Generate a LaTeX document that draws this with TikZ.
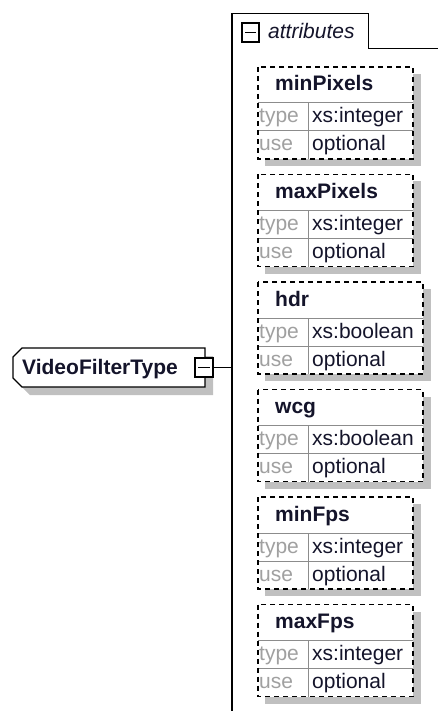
\documentclass[tikz,border=0pt]{standalone}
\usepackage{fontspec}
\setmainfont{Liberation Sans}
\definecolor{shadowgray}{HTML}{C0C0C0}
\definecolor{sepgray}{HTML}{8C8C8C}
\definecolor{keygray}{HTML}{A0A0A0}
\definecolor{inkdark}{HTML}{14142A}
\newcommand\xsdattr[5]{%
  \fill[shadowgray] (265,{#2+7}) rectangle ({#3+8},{#2+99});
  \fill[white] (258,#2) rectangle (#3,{#2+92});
  \draw[sepline] (258,{#2+36}) -- (#3,{#2+36});
  \draw[sepline] (258,{#2+64}) -- (#3,{#2+64});
  \draw[sepline] (308,{#2+36}) -- (308,{#2+92});
  \draw[dashbox] (258,#2) rectangle (#3,{#2+92});
  \node[titletext] (#1-title) at (275,{#2+24}) {#4};
  \node[keytext] (#1-typek) at (259,{#2+56}) {type};
  \node[valtext] (#1-typev) at (312,{#2+56}) {#5};
  \node[keytext] (#1-usek) at (259,{#2+84}) {use};
  \node[valtext] (#1-usev) at (312,{#2+84}) {optional};
}
\begin{document}
\begin{tikzpicture}[x=1pt,y=-1pt,
  sepline/.style={draw=sepgray, line width=1pt},
  dashbox/.style={draw=black, line width=1.3pt, dash pattern=on 5pt off 4pt},
  titletext/.style={anchor=base west, inner sep=0pt, text=inkdark, font=\bfseries\fontsize{21}{25}\selectfont},
  keytext/.style={anchor=base west, inner sep=0pt, text=keygray, font=\fontsize{21}{25}\selectfont},
  valtext/.style={anchor=base west, inner sep=0pt, text=inkdark, font=\fontsize{21}{25}\selectfont},
  minusbox/.style={draw=black, fill=white, line width=1.1pt, minimum width=18pt, minimum height=19pt, inner sep=0pt,
    path picture={\draw[line width=1.1pt] ([xshift=3pt]path picture bounding box.west) -- ([xshift=-3pt]path picture bounding box.east);}},
]
\useasboundingbox (0,0) rectangle (437,711);
\fill[white] (0,0) rectangle (437,711);

% root element
\fill[shadowgray, shift={(8,8)}] (22,348) -- (205,348) -- (205,387) -- (22,387) -- (13,378) -- (13,357) -- cycle;
\draw[fill=white, line width=1.3pt] (22,348) -- (205,348) -- (205,387) -- (22,387) -- (13,378) -- (13,357) -- cycle;
\node[titletext] (root) at (22,374) {VideoFilterType};
\node[minusbox] (rootminus) at (204,367.5) {};

% attributes container
\draw[line width=1.3pt] (232,715) -- (232,13.5) -- (368.5,13.5) -- (368.5,48.5) -- (440,48.5);
\coordinate (cline) at (232,367.5);
\draw[line width=1.3pt] (rootminus.east) -- (cline);
\node[minusbox, minimum width=17pt] (attrminus) at (250.5,32.5) {};
\node[anchor=base west, inner sep=0pt, text=inkdark, font=\itshape\fontsize{21}{25}\selectfont] (attrlabel) at (268,39) {attributes};

% attribute boxes
\xsdattr{minpixels}{67}{413}{minPixels}{xs:integer}
\xsdattr{maxpixels}{174.5}{413}{maxPixels}{xs:integer}
\xsdattr{hdr}{282}{423}{hdr}{xs:boolean}
\xsdattr{wcg}{389.5}{423}{wcg}{xs:boolean}
\xsdattr{minfps}{497}{413}{minFps}{xs:integer}
\xsdattr{maxfps}{604.5}{413}{maxFps}{xs:integer}
\end{tikzpicture}
\end{document}
